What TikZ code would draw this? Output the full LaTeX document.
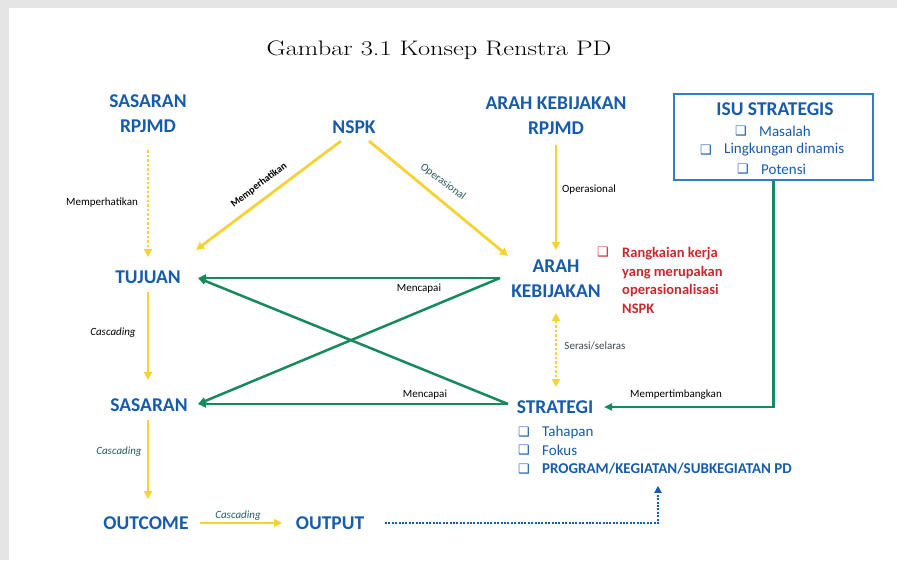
\documentclass[tikz,border=0pt]{standalone}
\usepackage{fontspec}
\usepackage{graphicx}
\setsansfont{Carlito}
\newfontfamily\symfont{DejaVu Sans}
\usetikzlibrary{arrows.meta,calc}
\definecolor{myblue}{RGB}{22,92,170}
\definecolor{boxblue}{RGB}{45,125,200}
\definecolor{myyellow}{RGB}{246,210,52}
\definecolor{mygreen}{RGB}{22,138,92}
\definecolor{myred}{RGB}{200,40,46}
\definecolor{labgray}{RGB}{60,70,80}
\definecolor{labteal}{RGB}{40,90,100}
\tikzset{
  big/.style={font=\sffamily\bfseries\fontsize{19.5}{25}\selectfont, text=myblue, align=center, inner sep=1pt},
  item/.style={font=\sffamily\fontsize{15}{18.5}\selectfont, text=myblue, inner sep=1pt},
  chk/.style={font=\symfont\fontsize{13}{14}\selectfont, text=myblue, inner sep=0pt},
  lbl/.style={font=\sffamily\fontsize{11}{12}\selectfont, text=black, inner sep=1pt},
  ilbl/.style={font=\sffamily\itshape\fontsize{11}{12}\selectfont, text=black, inner sep=1pt},
  ytip/.style={-{Triangle[length=8pt,width=8pt]}},
  yline/.style={draw=myyellow, line width=2.8pt, ytip},
  ydot/.style={draw=myyellow, line width=2.8pt, dash pattern=on 2.5pt off 2pt, ytip},
  gline/.style={draw=mygreen, line width=2.5pt, -{Triangle[length=8pt,width=7pt]}},
  bdot/.style={draw=myblue, line width=2pt, dash pattern=on 2pt off 1.4pt, -{Triangle[length=7pt,width=7pt]}}
}
\begin{document}
\begin{tikzpicture}[x=1pt,y=-1pt]
\fill[black!10] (0,0) rectangle (897,560);
\fill[white] (9,8) rectangle (897,560);
\useasboundingbox (0,0) rectangle (897,560);

% title
\node[inner sep=0pt, font=\rmfamily\fontsize{21}{24}\selectfont] (title) at (439,50) {\scalebox{1.26}[1]{Gambar 3.1 Konsep Renstra PD}};

% main nodes
\node[big] (srp) at (148,114) {SASARAN\\RPJMD};
\node[big] (nspk) at (354,127) {NSPK};
\node[big] (akr) at (556,116) {ARAH KEBIJAKAN\\RPJMD};
\node[big] (tujuan) at (148,277) {TUJUAN};
\node[big] (ak) at (556,279) {ARAH\\KEBIJAKAN};
\node[big] (sasaran) at (149,405) {SASARAN};
\node[big] (strategi) at (555,407) {STRATEGI};
\node[big] (outcome) at (146,523) {OUTCOME};
\node[big] (output) at (330,523) {OUTPUT};

% ISU STRATEGIS box
\node[draw=boxblue, line width=1.3pt, minimum width=199pt, minimum height=86pt, inner sep=0pt] (isu) at (773.5,137) {};
\node[big] (isut) at (775,109) {ISU STRATEGIS};
\node[chk] (c1) at (741,131) {❑};
\node[item, anchor=west] (i1) at (758,131) {Masalah};
\node[chk] (c2) at (706,150) {❑};
\node[item, anchor=west] (i2) at (723,150) {Lingkungan dinamis};
\node[chk] (c3) at (743,169) {❑};
\node[item, anchor=west] (i3) at (760,169) {Potensi};

% red note
\node[chk, text=myred] (rc) at (603,252) {❑};
\node[font=\sffamily\bfseries\fontsize{14.5}{18.5}\selectfont, text=myred, align=left, anchor=west, inner sep=0pt] (note) at (622,280.5) {Rangkaian kerja\\yang merupakan\\operasionalisasi\\NSPK};

% strategi items
\node[chk] (s1) at (524,432) {❑};
\node[item, anchor=west] (tahapan) at (541,432) {Tahapan};
\node[chk] (s2) at (524,450) {❑};
\node[item, anchor=west] (fokus) at (541,450) {Fokus};
\node[chk] (s3) at (524,469) {❑};
\node[item, font=\sffamily\bfseries\fontsize{15}{16}\selectfont, anchor=west] (prog) at (541,469) {PROGRAM/KEGIATAN/SUBKEGIATAN PD};

% yellow connectors
\draw[ydot] ($(srp)+(0,36)$) -- ($(tujuan)+(0,-20)$);
\draw[yline] ($(nspk)+(-13,14)$) -- ($(tujuan)+(48,-27)$);
\node[lbl, font=\sffamily\bfseries\fontsize{10}{11}\selectfont, rotate=37] (opk) at (259,185) {Memperhatikan};
\draw[yline] ($(nspk)+(15,14)$) -- ($(ak)+(-48,-23)$);
\node[lbl, text=labteal, rotate=-37] (opl) at (443,182) {Operasional};
\draw[yline] ($(akr)+(0,29)$) -- ($(ak)+(0,-29)$);
\draw[ydot, {Triangle[length=8pt,width=8pt]}-{Triangle[length=8pt,width=8pt]}] ($(ak)+(0,34)$) -- ($(strategi)+(1,-20)$);
\draw[yline] ($(tujuan)+(0,15)$) -- ($(sasaran)+(-1,-25)$);
\draw[yline] ($(sasaran)+(-1,15)$) -- ($(outcome)+(2,-24)$);
\draw[yline] ($(outcome)+(54,0)$) -- ($(output)+(-48,0)$);

% labels
\node[lbl] (l1) at (102,203) {Memperhatikan};
\node[lbl] (l2) at (589,190) {Operasional};
\node[lbl, text=labgray] (l3) at (595,346) {Serasi/selaras};
\node[ilbl] (l4) at (113,333) {Cascading};
\node[ilbl, text=labteal] (l5) at (119,452) {Cascading};
\node[ilbl, text=labteal] (l6) at (238,516) {Cascading};

% green connectors
\draw[gline] ($(ak)+(-56,-1)$) -- ($(tujuan)+(50,1)$);
\draw[gline] ($(ak)+(-56,-1)$) -- ($(sasaran)+(49,-1)$);
\draw[gline] ($(strategi)+(-47,-3)$) -- ($(tujuan)+(50,1)$);
\draw[gline] ($(strategi)+(-47,-3)$) -- ($(sasaran)+(49,-1)$);
\draw[gline] (isu.south) |- ($(strategi)+(49,0)$);
\node[lbl] (m1) at (419,289) {Mencapai};
\node[lbl] (m2) at (425,395) {Mencapai};
\node[lbl] (m3) at (676,395) {Mempertimbangkan};

% blue dotted
\draw[bdot] ($(output)+(55,0)$) -| ($(prog.south west)+(117,10)$);
\end{tikzpicture}
\end{document}
